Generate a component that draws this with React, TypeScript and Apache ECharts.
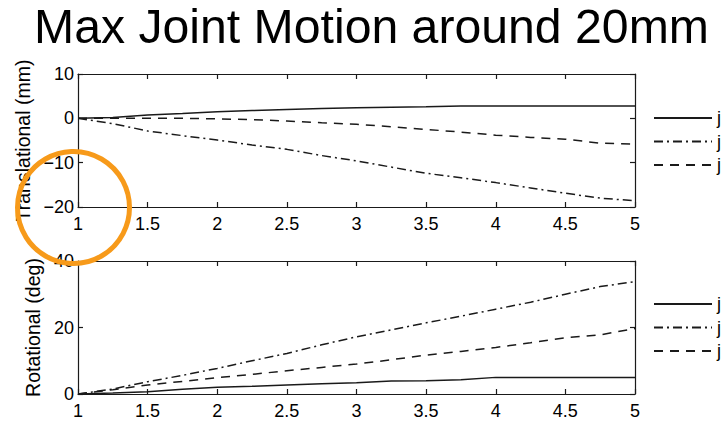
import React, { useEffect, useRef } from "react";
import * as echarts from "echarts";

// Time samples (s) shared by both panels
const timeSteps = [1, 1.25, 1.5, 1.75, 2, 2.25, 2.5, 2.75, 3, 3.25, 3.5, 3.75, 4, 4.25, 4.5, 4.75, 5];

// Translational joint motion (mm)
const transSolid = [0, 0.2, 0.75, 1.1, 1.5, 1.75, 2.0, 2.2, 2.4, 2.5, 2.6, 2.8, 2.8, 2.8, 2.8, 2.8, 2.8];
const transDashDot = [0, -1.2, -2.85, -3.9, -4.9, -6.0, -7.0, -8.4, -9.6, -11.0, -12.4, -13.4, -14.5, -15.7, -16.9, -18.0, -18.6];
const transDashed = [0, 0, 0, 0, -0.1, -0.3, -0.6, -1.0, -1.35, -1.9, -2.5, -3.1, -3.8, -4.3, -4.7, -5.6, -5.8];

// Rotational joint motion (deg)
const rotSolid = [0, 0.3, 0.7, 1.4, 2.0, 2.3, 2.7, 3.1, 3.4, 3.9, 4.0, 4.3, 5.0, 5.0, 5.0, 5.0, 5.0];
const rotDashDot = [0, 1.5, 3.7, 5.6, 7.7, 10.0, 12.2, 14.8, 17.2, 19.3, 21.4, 23.4, 25.5, 27.6, 30.0, 32.3, 33.8];
const rotDashed = [0, 1.3, 2.7, 3.8, 4.9, 5.9, 7.0, 8.0, 9.0, 10.3, 11.7, 12.8, 14.0, 15.4, 16.9, 17.8, 19.7];

const xTicks = { min: 1, max: 5, interval: 0.5 };
const transTicks = { min: -20, max: 10, interval: 10 };
const rotTicks = { min: 0, max: 40, interval: 20 };

const titleText = "Max Joint Motion around 20mm";
const transName = "Translational (mm)";
const rotName = "Rotational (deg)";
const legendLabel = "j";

const FONT = "'Liberation Sans', Arial, Helvetica, sans-serif";
const INK = "#1a1a1a";

const pair = (ys: number[]) => timeSteps.map((t, i) => [t, ys[i]]);

export default function App() {
  const ref = useRef<HTMLDivElement>(null);

  useEffect(() => {
    if (!ref.current) return;
    const chart = echarts.init(ref.current, null, { renderer: "svg" });

    // Boxed axes: lines stay on the grid edges, ticks point inward
    const axisLine = { show: true, onZero: false, lineStyle: { color: INK, width: 1.2 } };
    const tickIn = { show: true, inside: true, length: 5, lineStyle: { color: INK, width: 1.2 } };
    const tickLabel = { color: "#000", fontFamily: FONT, fontSize: 18 };

    const xAxes: any[] = [];
    const yAxes: any[] = [];
    [0, 1].forEach((g) => {
      xAxes.push({
        type: "value", gridIndex: g, position: "bottom", ...xTicks,
        axisLine, axisTick: tickIn, splitLine: { show: false },
        axisLabel: { ...tickLabel, margin: 8, formatter: (v: number) => String(v) },
      });
      xAxes.push({
        type: "value", gridIndex: g, position: "top", ...xTicks,
        axisLine, axisTick: tickIn, splitLine: { show: false }, axisLabel: { show: false },
      });
      const yt = g === 0 ? transTicks : rotTicks;
      yAxes.push({
        type: "value", gridIndex: g, position: "left", ...yt,
        axisLine, axisTick: tickIn, splitLine: { show: false },
        axisLabel: { ...tickLabel, margin: 4, formatter: (v: number) => (v < 0 ? "\u2212" + Math.abs(v) : String(v)) },
        name: g === 0 ? transName : rotName,
        nameLocation: "middle",
        nameGap: g === 0 ? 41 : 35,
        nameRotate: 90,
        nameTextStyle: { color: "#000", fontFamily: FONT, fontSize: 19.5 },
      });
      yAxes.push({
        type: "value", gridIndex: g, position: "right", ...yt,
        axisLine, axisTick: tickIn, splitLine: { show: false }, axisLabel: { show: false },
      });
    });

    const mk = (name: string, g: number, data: number[], dash: any) => ({
      name,
      type: "line",
      xAxisIndex: g * 2,
      yAxisIndex: g * 2,
      data: pair(data),
      showSymbol: false,
      symbol: "none",
      lineStyle: { color: INK, width: 1.5, type: dash },
      itemStyle: { color: INK },
    });

    const solid = "solid";
    const dashDot = [9, 4, 2, 4];
    const dashed = [9, 7];

    const legendCommon = {
      orient: "vertical",
      left: 648,
      itemWidth: 58,
      itemHeight: 12,
      itemGap: 5.5,
      itemStyle: { opacity: 0 },
      textStyle: { color: "#000", fontFamily: FONT, fontSize: 18 },
      formatter: () => legendLabel,
      selectedMode: false,
    };

    chart.setOption({
      animation: false,
      backgroundColor: "#fff",
      title: {
        text: titleText,
        left: 29,
        top: -3,
        textStyle: { color: "#000", fontFamily: FONT, fontSize: 48.2, fontWeight: "normal" },
      },
      grid: [
        { left: 78, right: 86, top: 74, height: 133 },
        { left: 78, right: 86, top: 261, height: 133 },
      ],
      xAxis: xAxes,
      yAxis: yAxes,
      legend: [
        { ...legendCommon, top: 104, data: ["j-t1", "j-t2", "j-t3"] },
        { ...legendCommon, top: 290, data: ["j-r1", "j-r2", "j-r3"] },
      ],
      series: [
        mk("j-t1", 0, transSolid, solid),
        mk("j-t2", 0, transDashDot, dashDot),
        mk("j-t3", 0, transDashed, dashed),
        mk("j-r1", 1, rotSolid, solid),
        mk("j-r2", 1, rotDashDot, dashDot),
        mk("j-r3", 1, rotDashed, dashed),
      ],
      graphic: [
        {
          type: "circle",
          z: 100,
          shape: { cx: 73.5, cy: 207.5, r: 56 },
          style: { fill: "none", stroke: "#F79A1A", lineWidth: 5 },
        },
      ],
    });

    return () => chart.dispose();
  }, []);

  return <div ref={ref} style={{ width: 721, height: 423, position: "absolute", left: 0, top: 0 }} />;
}
